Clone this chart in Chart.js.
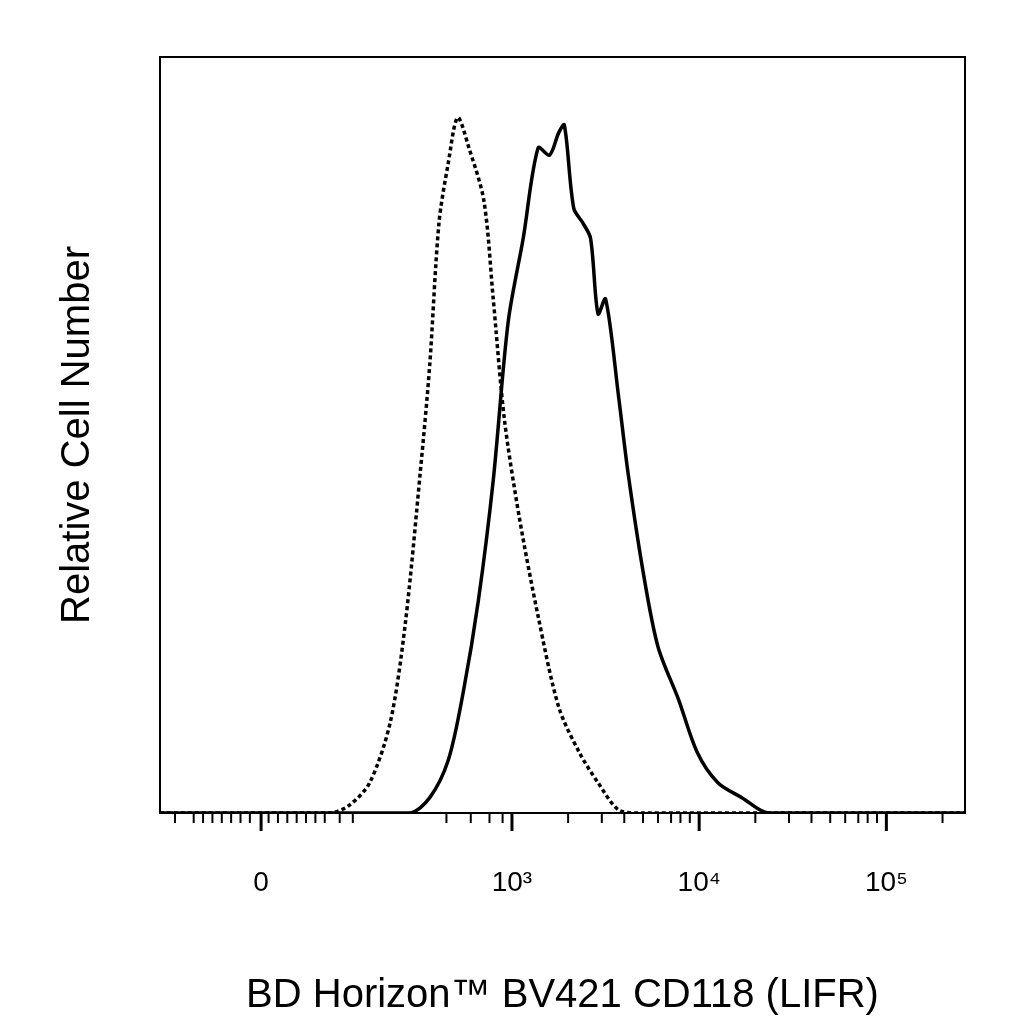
<!DOCTYPE html>
<html><head><meta charset="utf-8">
<script src="https://cdn.jsdelivr.net/npm/chart.js@4"></script>
<style>html,body{margin:0;background:#fff}#w{width:1024px;height:1024px}</style>
</head><body><div id="w"><canvas id="c"></canvas></div>
<script>
// x in display units: 3 = 10^3, 4 = 10^4, 5 = 10^5, 1.66 = 0
const isotypeX = [1.12,1.8,2.03,2.13,2.24,2.35,2.43,2.51,2.56,2.61,2.66,2.71,2.77,2.85,2.90,2.96,3.04,3.14,3.25,3.36,3.46,3.57,3.68,5.42];
const isotypeY = [0,0,0,1,4,12,25,45,59,78,86,92,88,81,68,52,39,26,14,8,4,0.4,0,0];
const stainX = [1.12,2.45,2.56,2.66,2.74,2.82,2.90,2.98,3.06,3.14,3.20,3.25,3.28,3.33,3.38,3.42,3.46,3.50,3.57,3.62,3.70,3.78,3.89,3.99,4.10,4.23,4.37,5.42];
const stainY = [0,0,2,7,16,28,44,65,76,88,87,90,91,80,78,76,66,68,55,45,32,22,15,8,4,2,0,0];
const majorTicks = [1.66,3,4,5];
const majorLabels = ['0','10³','10⁴','10⁵'];
const minorTicks = [1.2,1.3,1.35,1.4,1.45,1.5,1.55,1.6,1.7,1.75,1.8,1.85,1.9,1.95,2.0,2.08,2.15,2.65,2.78,2.88,2.95,
  3.30,3.48,3.60,3.70,3.78,3.85,3.90,3.95,4.30,4.48,4.60,4.70,4.78,4.85,4.90,4.95,5.30];
const toPts = (xs,ys)=>xs.map((x,i)=>({x,y:ys[i]}));
const frame = {id:'frame',afterDraw(ch){const a=ch.chartArea,c=ch.ctx,s=ch.scales.x;c.save();c.strokeStyle='#000';c.lineWidth=2;
  c.strokeRect(a.left,a.top,a.right-a.left,a.bottom-a.top);
  majorTicks.forEach(v=>{const p=s.getPixelForValue(v);c.lineWidth=3;c.beginPath();c.moveTo(p,a.bottom);c.lineTo(p,a.bottom+18);c.stroke();});
  minorTicks.forEach(v=>{const p=s.getPixelForValue(v);c.lineWidth=2;c.beginPath();c.moveTo(p,a.bottom);c.lineTo(p,a.bottom+10);c.stroke();});
  c.restore();}};
new Chart(document.getElementById('c'),{type:'line',
 data:{datasets:[
  {data:toPts(isotypeX,isotypeY),borderColor:'#000',borderWidth:3.5,borderDash:[4,3],pointRadius:0,tension:0.3,fill:false},
  {data:toPts(stainX,stainY),borderColor:'#000',borderWidth:3.5,pointRadius:0,tension:0.3,fill:false}]},
 options:{responsive:true,maintainAspectRatio:false,animation:false,
  layout:{padding:{left:50,top:57,right:59,bottom:0}},
  plugins:{legend:{display:false},tooltip:{enabled:false}},
  scales:{
   x:{type:'linear',min:1.12,max:5.42,border:{display:false},grid:{display:false},
    afterBuildTicks:s=>{s.ticks=majorTicks.map(v=>({value:v}));},
    afterFit:s=>{s.height=211;},
    ticks:{autoSkip:false,maxRotation:0,padding:45,color:'#000',font:{family:'Liberation Sans',size:28},
     callback:(v)=>{const i=majorTicks.indexOf(v);return i>=0?majorLabels[i]:'';}},
    title:{display:true,text:'BD Horizon™ BV421 CD118 (LIFR)',color:'#000',font:{family:'Liberation Sans',size:40},padding:{top:18}}},
   y:{min:0,max:100,border:{display:false},grid:{display:false},ticks:{display:false},
    afterFit:s=>{s.width=110;},
    title:{display:true,text:'Relative Cell Number',color:'#000',font:{family:'Liberation Sans',size:40},padding:{bottom:0}}}}},
 plugins:[frame]});
</script></body></html>
